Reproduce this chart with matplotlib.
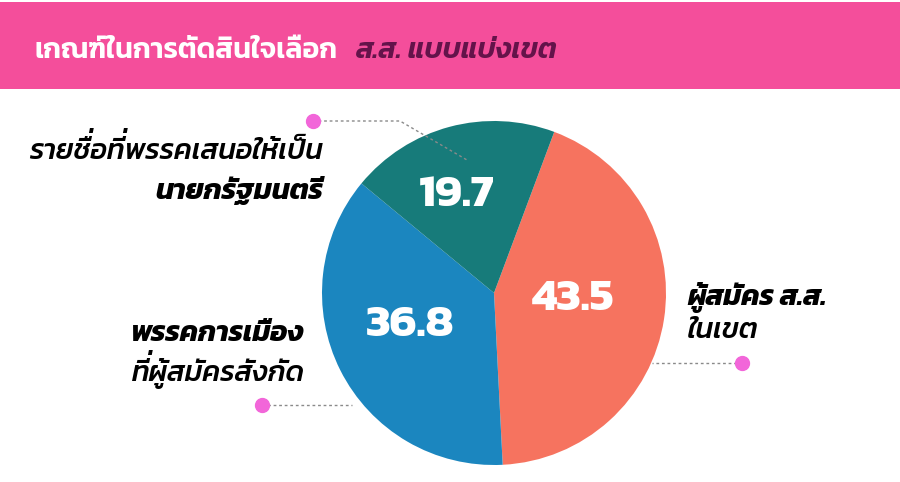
#!/usr/bin/env python3
"""
Pie chart: criteria for choosing a constituency MP (Thai poll graphic).
Kanit has no mark-to-mark positioning in matplotlib, so tone marks that sit on
an upper vowel are drawn as separate small texts, lifted above the vowel.
"""
import matplotlib
matplotlib.use("Agg")
import matplotlib.pyplot as plt
from matplotlib import _text_helpers
from matplotlib.font_manager import FontProperties, findfont, get_font
from matplotlib.patches import Rectangle

# --- data ---------------------------------------------------------------------------------------
TITLE_MAIN = "เกณฑ์ในการตัดสินใจเลือก"
TITLE_SUB = "ส.ส. แบบแบ่งเขต"
CATEGORIES = ["ผู้สมัคร ส.ส. ในเขต", "พรรคการเมืองที่ผู้สมัครสังกัด",
              "รายชื่อที่พรรคเสนอให้เป็นนายกรัฐมนตรี"]
VALUES = [43.5, 36.8, 19.7]
LABEL_LINES = [("ผู้สมัคร ส.ส.", "ในเขต"),
               ("พรรคการเมือง", "ที่ผู้สมัครสังกัด"),
               ("รายชื่อที่พรรคเสนอให้เป็น", "นายกรัฐมนตรี")]

# --- style / layout (figure pixels, y down) -----------------------------------------------------
COLOURS = ["#F6735F", "#1B86BF", "#177B7A"]
PINK_BAND = "#F44E9B"
TITLE_PURPLE = "#64134A"
DOT_PINK = "#F266D9"
FAMILY = ["Kanit", "DejaVu Sans"]
W, H, DPI = 900, 482, 100
CX, CY, R = 494, 293, 172
NUM_POS = [(573, 299), (410, 325), (457, 195)]
# x, baseline line 1, baseline line 2, alignment, weights
LABEL_POS = [(687, 305, 338, "left", (700, 500)),
             (305, 341, 381, "right", (700, 500)),
             (323, 159, 199, "right", (500, 700))]
LEADERS = [([742, 652], [363, 363]), ([262, 352], [405, 405]),
           ([313, 400, 467], [121, 121, 160])]
LABEL_SIZE = 20.5
TITLE_SIZE = 20.5
NUM_SIZE = 33

UPPER = set("\u0e31\u0e34\u0e35\u0e36\u0e37\u0e47\u0e4d")
TONES = set("\u0e48\u0e49\u0e4a\u0e4b\u0e4c")
NBSP = "\u00a0"


def split_marks(s):
    base, marks = "", []
    for ch in s:
        if ch in TONES and base and base[-1] in UPPER:
            marks.append((len(base), ch))
        else:
            base += ch
    return base, marks


def thai_text(fig, ax, x, y, s, size, weight, style="normal", ha="left", color="black",
              lift=0.27, slant=0.2):
    """Draw Thai text on ax (pixel coords, y down) with stacked tone marks lifted."""
    base, marks = split_marks(s)
    kw = dict(fontsize=size, fontweight=weight, style=style, color=color, family=FAMILY)
    t = ax.text(x, y, base, ha=ha, va="baseline", **kw)
    if not marks:
        return t
    renderer = fig.canvas.get_renderer()
    pen_x = t.get_window_extent(renderer).x0
    prop = FontProperties(family=FAMILY[0], size=size, weight=weight, style=style)
    font = get_font(findfont(prop))
    font.set_size(size, DPI)
    em = size * DPI / 72
    dy = lift * em
    dx = slant * dy if style == "italic" else 0
    for k, ch in marks:
        target = list(_text_helpers.layout(base[:k] + ch, font))[-1].x
        # the mark hangs on a no-break space so its text box has a width
        space = list(_text_helpers.layout(NBSP + ch, font))[-1].x
        ax.text(pen_x + target - space + dx, y - dy, NBSP + ch, ha="left", va="baseline", **kw)
    return t


def main():
    fig = plt.figure(figsize=(W / DPI, H / DPI), dpi=DPI)

    # pie underneath, overlay axes in pixel coordinates on top
    pax = fig.add_axes([(CX - R) / W, (H - CY - R) / H, 2 * R / W, 2 * R / H], zorder=1)
    _, empty = pax.pie(VALUES, colors=COLOURS, startangle=69.5, counterclock=False,
                       wedgeprops=dict(linewidth=0))
    for t in empty:
        t.remove()
    pax.set_xlim(-1, 1)
    pax.set_ylim(-1, 1)
    pax.set_aspect("equal")

    bg = fig.add_axes([0, 0, 1, 1], zorder=2)
    bg.set_xlim(0, W)
    bg.set_ylim(H, 0)
    bg.axis("off")

    # header band
    bg.add_patch(Rectangle((0, 2), W, 87, facecolor=PINK_BAND, edgecolor="none"))
    thai_text(fig, bg, 35, 58, TITLE_MAIN, TITLE_SIZE, 600, color="white")
    thai_text(fig, bg, 355, 58, TITLE_SUB, TITLE_SIZE, 600, style="italic", color=TITLE_PURPLE)

    for v, (x, y) in zip(VALUES, NUM_POS):
        bg.text(x, y, f"{v:.1f}", color="white", fontsize=NUM_SIZE, fontweight=700,
                family=FAMILY, ha="center", va="center", zorder=5)

    # category labels
    for (l1, l2), (x, y1, y2, ha, (w1, w2)) in zip(LABEL_LINES, LABEL_POS):
        thai_text(fig, bg, x, y1, l1, LABEL_SIZE, w1, style="italic", ha=ha)
        thai_text(fig, bg, x, y2, l2, LABEL_SIZE, w2, style="italic", ha=ha)

    # dotted leader lines ending in pink dots
    for xs, ys in LEADERS:
        bg.plot(xs, ys, color="#8A8A8A", linewidth=1, linestyle=(0, (2, 2)), zorder=4)
        bg.plot(xs[0], ys[0], "o", color=DOT_PINK, markersize=10, zorder=6)

    fig.savefig("out.png", dpi=DPI, facecolor="white")
    plt.close(fig)


if __name__ == "__main__":
    main()
